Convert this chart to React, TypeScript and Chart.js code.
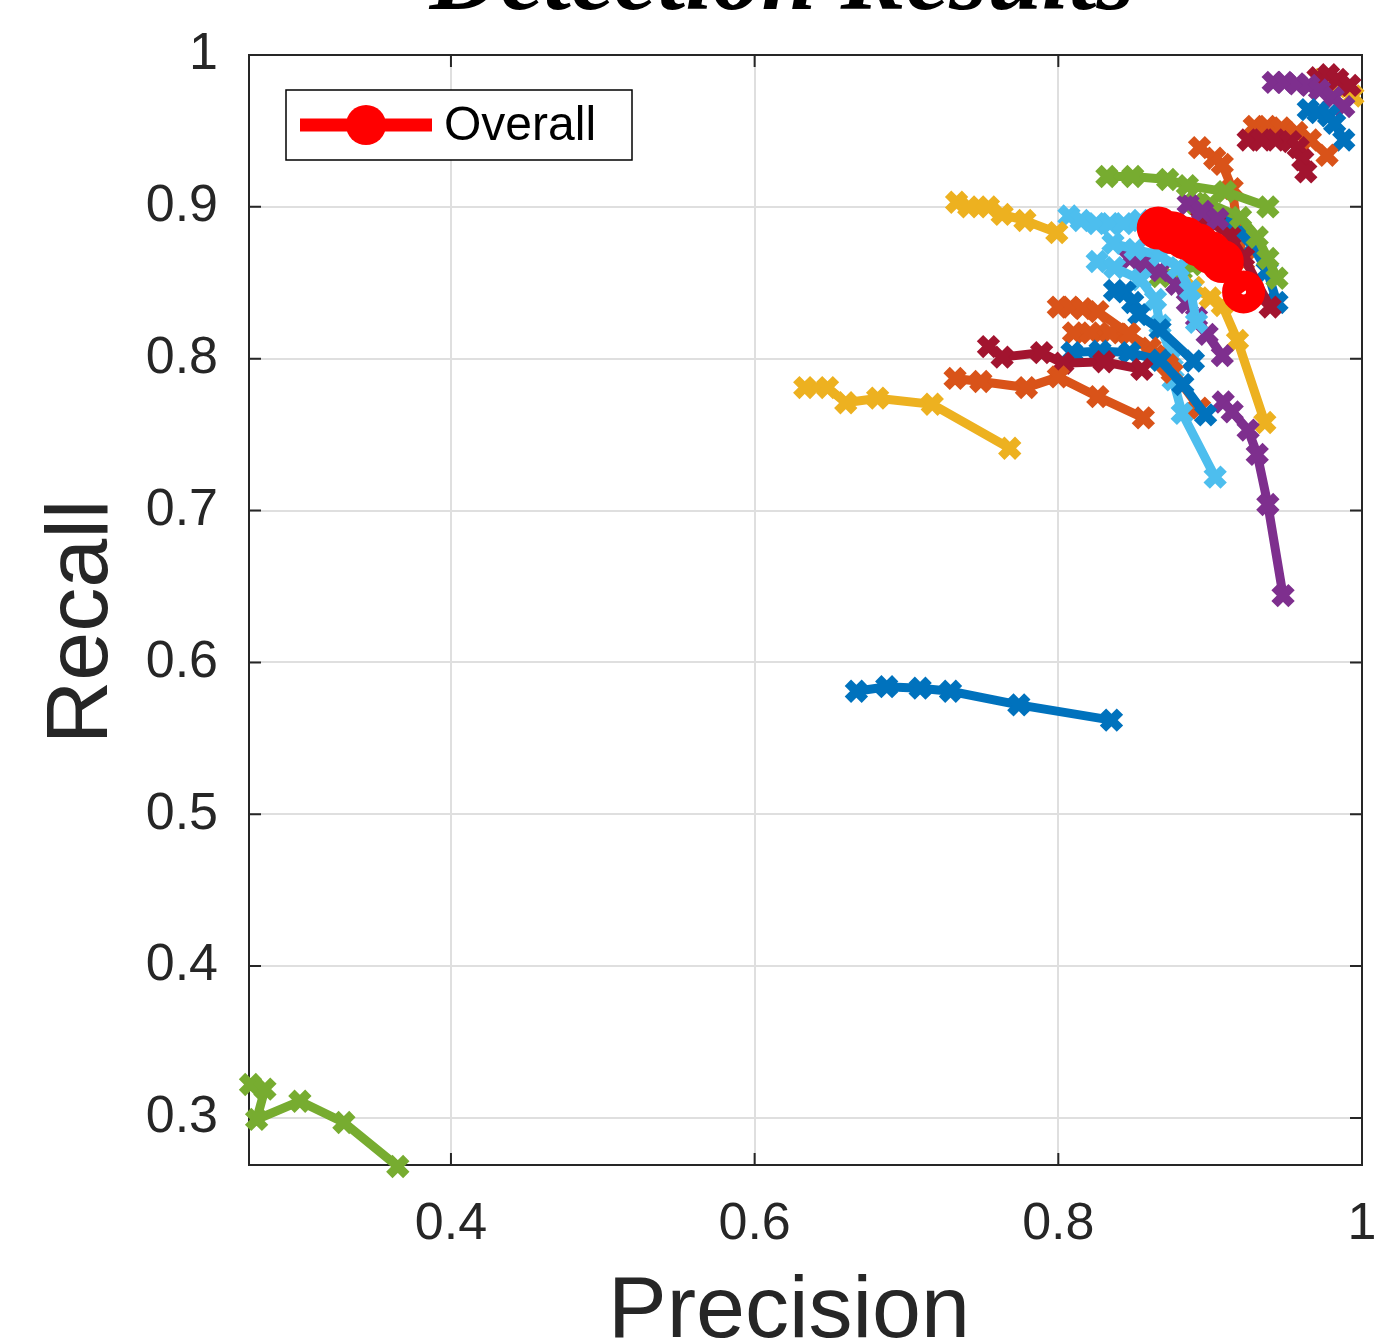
import { useEffect, useRef } from 'react';
import { Chart, registerables } from 'chart.js';

Chart.register(...registerables);

const COLORS = {
  blue: '#0072BD',
  orange: '#D95319',
  yellow: '#EDB120',
  purple: '#7E2F8E',
  green: '#77AC30',
  lightBlue: '#4DBEEE',
  darkRed: '#A2142F',
  red: '#FF0000',
};

const xTicks = [0.4, 0.6, 0.8, 1];
const yTicks = [0.3, 0.4, 0.5, 0.6, 0.7, 0.8, 0.9, 1];
const xRange = [0.267, 1];
const yRange = [0.269, 1];

// Per-class precision / recall curves
const greenLowP = [0.268, 0.2775, 0.272, 0.3005, 0.3295, 0.365];
const greenLowR = [0.322, 0.319, 0.299, 0.311, 0.297, 0.268];

const blueMidP = [0.667, 0.687, 0.709, 0.729, 0.774, 0.835];
const blueMidR = [0.581, 0.584, 0.583, 0.581, 0.572, 0.562];

const yellowLowP = [0.633, 0.648, 0.66, 0.681, 0.717, 0.768];
const yellowLowR = [0.781, 0.781, 0.771, 0.774, 0.77, 0.741];

const yellowHighP = [0.733, 0.741, 0.754, 0.763, 0.778, 0.799];
const yellowHighR = [0.903, 0.9, 0.9, 0.895, 0.891, 0.883];

const darkRedLowP = [0.754, 0.763, 0.789, 0.803, 0.83, 0.855];
const darkRedLowR = [0.808, 0.801, 0.804, 0.797, 0.798, 0.793];

const orangeLowP = [0.732, 0.749, 0.779, 0.8, 0.826, 0.856];
const orangeLowR = [0.787, 0.785, 0.781, 0.788, 0.775, 0.761];

const blueLowP = [0.809, 0.8275, 0.847, 0.867, 0.882, 0.897];
const blueLowR = [0.804, 0.805, 0.804, 0.799, 0.783, 0.763];

const orangeMidAP = [0.8, 0.808, 0.816, 0.826, 0.847, 0.864, 0.875];
const orangeMidAR = [0.834, 0.834, 0.833, 0.831, 0.816, 0.802, 0.791];

const orangeMidBP = [0.81, 0.821, 0.834, 0.846, 0.8605, 0.872, 0.893];
const orangeMidBR = [0.817, 0.817, 0.817, 0.8163, 0.807, 0.796, 0.7675];

const blueUpperP = [0.837, 0.844, 0.849, 0.853, 0.867, 0.889];
const blueUpperR = [0.845, 0.844, 0.837, 0.829, 0.819, 0.7985];

const lightBlueAP = [0.807, 0.815, 0.825, 0.834, 0.843, 0.854, 0.87];
const lightBlueAR = [0.894, 0.891, 0.889, 0.889, 0.889, 0.891, 0.886];

const lightBlueBP = [0.836, 0.8506, 0.867, 0.879, 0.887, 0.891];
const lightBlueBR = [0.876, 0.872, 0.868, 0.86, 0.845, 0.824];

const lightBlueCP = [0.8256, 0.837, 0.854, 0.864, 0.867, 0.875, 0.8756, 0.8816, 0.9033];
const lightBlueCR = [0.864, 0.86, 0.852, 0.839, 0.822, 0.801, 0.786, 0.764, 0.722];

const purpleMidP = [0.847, 0.857, 0.867, 0.878, 0.885, 0.891, 0.898, 0.908];
const purpleMidR = [0.866, 0.863, 0.858, 0.849, 0.837, 0.827, 0.816, 0.802];

const purpleLowP = [0.9086, 0.9145, 0.925, 0.931, 0.938, 0.948];
const purpleLowR = [0.7715, 0.765, 0.753, 0.737, 0.704, 0.644];

const yellowMidP = [0.889, 0.9, 0.908, 0.918, 0.936];
const yellowMidR = [0.847, 0.84, 0.835, 0.812, 0.758];

const greenHighP = [0.832, 0.849, 0.872, 0.885, 0.91, 0.938];
const greenHighR = [0.92, 0.92, 0.918, 0.914, 0.91, 0.9];

const orangeSteepP = [0.893, 0.903, 0.908, 0.9145, 0.918, 0.922];
const orangeSteepR = [0.939, 0.932, 0.928, 0.912, 0.886, 0.864];

const greenMidP = [0.89, 0.9, 0.92, 0.931, 0.938, 0.944];
const greenMidR = [0.9025, 0.902, 0.893, 0.88, 0.866, 0.853];

const greenShortP = [0.867, 0.881, 0.895, 0.909];
const greenShortR = [0.854, 0.858, 0.862, 0.866];

const darkRedMidP = [0.893, 0.903, 0.913, 0.922, 0.9395];
const darkRedMidR = [0.893, 0.889, 0.881, 0.867, 0.834];

const blueSteepP = [0.91, 0.92, 0.928, 0.9375, 0.944];
const blueSteepR = [0.89, 0.883, 0.874, 0.858, 0.837];

const purpleShortP = [0.8855, 0.895, 0.905];
const purpleShortR = [0.902, 0.897, 0.892];

const darkRedTopP = [0.971, 0.978, 0.984, 0.992];
const darkRedTopR = [0.985, 0.987, 0.984, 0.98];

const yellowTopP = [0.974, 0.984, 0.994];
const yellowTopR = [0.984, 0.979, 0.973];

const purpleTopP = [0.9415, 0.949, 0.957, 0.965, 0.972, 0.981, 0.988];
const purpleTopR = [0.982, 0.982, 0.981, 0.98, 0.977, 0.972, 0.966];

const blueTopP = [0.9646, 0.971, 0.978, 0.982, 0.988];
const blueTopR = [0.964, 0.962, 0.96, 0.955, 0.944];

const orangeTopP = [0.929, 0.9376, 0.947, 0.957, 0.966, 0.977];
const orangeTopR = [0.953, 0.953, 0.952, 0.949, 0.944, 0.934];

const darkRedHighP = [0.925, 0.934, 0.943, 0.953, 0.958, 0.961, 0.963];
const darkRedHighR = [0.944, 0.944, 0.944, 0.943, 0.939, 0.931, 0.923];

// Overall curve
const overallP = [0.8658, 0.875, 0.8835, 0.892, 0.9, 0.908, 0.922];
const overallR = [0.886, 0.883, 0.8795, 0.875, 0.87, 0.864, 0.844];

const classSeries = [
  { color: COLORS.green, p: greenLowP, r: greenLowR },
  { color: COLORS.blue, p: blueMidP, r: blueMidR },
  { color: COLORS.yellow, p: yellowLowP, r: yellowLowR },
  { color: COLORS.yellow, p: yellowHighP, r: yellowHighR },
  { color: COLORS.orange, p: orangeLowP, r: orangeLowR },
  { color: COLORS.darkRed, p: darkRedLowP, r: darkRedLowR },
  { color: COLORS.blue, p: blueLowP, r: blueLowR },
  { color: COLORS.orange, p: orangeMidAP, r: orangeMidAR },
  { color: COLORS.orange, p: orangeMidBP, r: orangeMidBR },
  { color: COLORS.blue, p: blueUpperP, r: blueUpperR },
  { color: COLORS.lightBlue, p: lightBlueAP, r: lightBlueAR },
  { color: COLORS.lightBlue, p: lightBlueCP, r: lightBlueCR },
  { color: COLORS.lightBlue, p: lightBlueBP, r: lightBlueBR },
  { color: COLORS.purple, p: purpleMidP, r: purpleMidR },
  { color: COLORS.purple, p: purpleLowP, r: purpleLowR },
  { color: COLORS.yellow, p: yellowMidP, r: yellowMidR },
  { color: COLORS.green, p: greenShortP, r: greenShortR },
  { color: COLORS.green, p: greenHighP, r: greenHighR },
  { color: COLORS.purple, p: purpleShortP, r: purpleShortR },
  { color: COLORS.green, p: greenMidP, r: greenMidR },
  { color: COLORS.darkRed, p: darkRedMidP, r: darkRedMidR },
  { color: COLORS.blue, p: blueSteepP, r: blueSteepR },
  { color: COLORS.orange, p: orangeSteepP, r: orangeSteepR },
  { color: COLORS.darkRed, p: darkRedHighP, r: darkRedHighR },
  { color: COLORS.orange, p: orangeTopP, r: orangeTopR },
  { color: COLORS.blue, p: blueTopP, r: blueTopR },
  { color: COLORS.purple, p: purpleTopP, r: purpleTopR },
  { color: COLORS.darkRed, p: darkRedTopP, r: darkRedTopR },
  { color: COLORS.yellow, p: yellowTopP, r: yellowTopR },
];

const toPoints = (p: number[], r: number[]) => p.map((v, i) => ({ x: v, y: r[i] }));

const SANS = '"Liberation Sans", Arial, Helvetica, sans-serif';
const SERIF = '"Liberation Serif", "Times New Roman", serif';
const TEXT = '#262626';

const decorPlugin = {
  id: 'decor',
  beforeDatasetsDraw(chart: any) {
    const { ctx, chartArea, scales } = chart;
    const { left, right, top, bottom } = chartArea;
    ctx.save();
    ctx.strokeStyle = TEXT;
    ctx.lineWidth = 2;
    ctx.strokeRect(left, top, right - left, bottom - top);
    ctx.beginPath();
    for (const v of xTicks) {
      const px = scales.x.getPixelForValue(v);
      ctx.moveTo(px, bottom);
      ctx.lineTo(px, bottom - 12);
      ctx.moveTo(px, top);
      ctx.lineTo(px, top + 12);
    }
    for (const v of yTicks) {
      const py = scales.y.getPixelForValue(v);
      ctx.moveTo(left, py);
      ctx.lineTo(left + 12, py);
      ctx.moveTo(right, py);
      ctx.lineTo(right - 12, py);
    }
    ctx.stroke();
    ctx.restore();
  },
  afterDraw(chart: any) {
    const { ctx } = chart;
    ctx.save();
    // Title (cut off at top)
    ctx.fillStyle = '#000';
    ctx.font = `italic bold 98px ${SERIF}`;
    ctx.textAlign = 'center';
    ctx.textBaseline = 'alphabetic';
    ctx.fillText('Detection Results', 782, 9);

    // Axis titles
    ctx.fillStyle = TEXT;
    ctx.font = `88px ${SANS}`;
    ctx.fillText('Precision', 789, 1337);
    ctx.save();
    ctx.translate(107, 622);
    ctx.rotate(-Math.PI / 2);
    ctx.fillText('Recall', 0, 0);
    ctx.restore();

    // Legend
    const bx = 286, by = 90, bw = 346, bh = 70;
    ctx.fillStyle = '#fff';
    ctx.fillRect(bx, by, bw, bh);
    ctx.strokeStyle = '#000';
    ctx.lineWidth = 1.5;
    ctx.strokeRect(bx, by, bw, bh);
    ctx.strokeStyle = COLORS.red;
    ctx.lineWidth = 13;
    ctx.beginPath();
    ctx.moveTo(300, 125);
    ctx.lineTo(432, 125);
    ctx.stroke();
    ctx.fillStyle = COLORS.red;
    ctx.beginPath();
    ctx.arc(366, 125, 20, 0, Math.PI * 2);
    ctx.fill();
    ctx.fillStyle = '#000';
    ctx.font = `48px ${SANS}`;
    ctx.textAlign = 'left';
    ctx.textBaseline = 'middle';
    ctx.fillText('Overall', 444, 127);
    ctx.restore();
  },
};

export default function App() {
  const canvasRef = useRef<HTMLCanvasElement | null>(null);

  useEffect(() => {
    document.body.style.margin = '0';
    const canvas = canvasRef.current;
    if (!canvas) return;

    const datasets: any[] = [
      {
        label: 'Overall',
        data: toPoints(overallP, overallR),
        borderColor: COLORS.red,
        backgroundColor: 'rgba(255,0,0,0)',
        borderWidth: 14,
        pointStyle: 'circle',
        pointRadius: 12,
        pointBorderWidth: 19,
        pointBorderColor: COLORS.red,
        pointBackgroundColor: 'rgba(255,0,0,0)',
        tension: 0,
        order: 0,
        clip: false,
      },
      ...classSeries.map((s, i) => ({
        label: `Class ${i + 1}`,
        data: toPoints(s.p, s.r),
        borderColor: s.color,
        backgroundColor: s.color,
        borderWidth: 9,
        pointStyle: 'crossRot',
        pointRadius: 12,
        pointBorderWidth: 9,
        pointBorderColor: s.color,
        pointBackgroundColor: s.color,
        tension: 0,
        order: 1,
        clip: false,
      })),
    ];

    const chart = new Chart(canvas, {
      type: 'line',
      data: { datasets },
      options: {
        animation: false,
        responsive: false,
        devicePixelRatio: 1,
        events: [],
        layout: { autoPadding: false, padding: { top: 55, right: 13, left: 0, bottom: 0 } },
        plugins: { legend: { display: false }, tooltip: { enabled: false }, title: { display: false } },
        scales: {
          x: {
            type: 'linear',
            min: xRange[0],
            max: xRange[1],
            afterBuildTicks: (scale: any) => {
              scale.ticks = xTicks.map((v) => ({ value: v }));
            },
            afterFit: (scale: any) => {
              scale.height = 177;
              scale.paddingLeft = 0;
              scale.paddingRight = 0;
            },
            grid: { color: '#dfdfdf', lineWidth: 2, drawTicks: false },
            border: { display: false },
            ticks: {
              color: TEXT,
              font: { family: SANS, size: 52 },
              padding: 28,
              maxRotation: 0,
              callback: (v: any) => (Number(v) === 1 ? '1' : Number(v).toFixed(1)),
            },
          },
          y: {
            type: 'linear',
            min: yRange[0],
            max: yRange[1],
            afterBuildTicks: (scale: any) => {
              scale.ticks = yTicks.map((v) => ({ value: v }));
            },
            afterFit: (scale: any) => {
              scale.width = 249;
              scale.paddingTop = 0;
              scale.paddingBottom = 0;
            },
            grid: { color: '#dfdfdf', lineWidth: 2, drawTicks: false },
            border: { display: false },
            ticks: {
              color: TEXT,
              font: { family: SANS, size: 52 },
              padding: 31,
              callback: (v: any) => (Number(v) === 1 ? '1' : Number(v).toFixed(1)),
            },
          },
        },
      } as any,
      plugins: [decorPlugin],
    });

    return () => chart.destroy();
  }, []);

  return (
    <div style={{ width: 1375, height: 1342, overflow: 'hidden' }}>
      <canvas ref={canvasRef} width={1375} height={1342} style={{ display: 'block' }} />
    </div>
  );
}
